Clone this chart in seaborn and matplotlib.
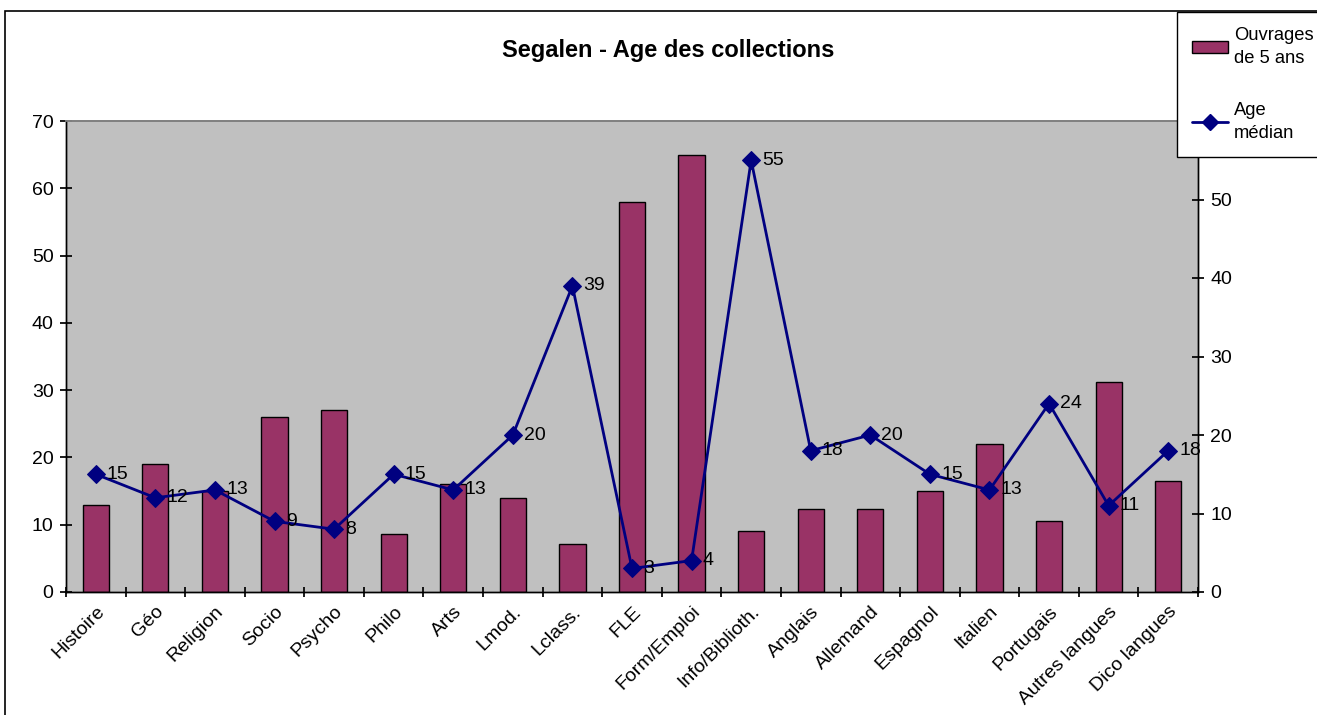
"""Segalen - age des collections : bars + median age line on twin axis."""
import numpy as np
import pandas as pd
import seaborn as sns
import matplotlib.pyplot as plt
from matplotlib.patches import Patch, Rectangle
from matplotlib.lines import Line2D

categories = ["Histoire", "Géo", "Religion", "Socio", "Psycho", "Philo", "Arts",
              "Lmod.", "Lclass.", "FLE", "Form/Emploi", "Info/Biblioth.", "Anglais",
              "Allemand", "Espagnol", "Italien", "Portugais", "Autres langues",
              "Dico langues"]
ouvrages_5ans = [13, 19, 15, 26, 27, 8.6, 16, 14, 7.2, 58, 65, 9, 12.4, 12.4,
                 15, 22, 10.5, 31.2, 16.5]
age_median = [15, 12, 13, 9, 8, 15, 13, 20, 39, 3, 4, 55, 18, 20, 15, 13, 24, 11, 18]
age_ticks = [0, 10, 20, 30, 40, 50, 60]

BAR_COLOR = "#993366"
LINE_COLOR = "#000080"
FS = 14

sns.set_theme(style="ticks")
plt.rcParams["font.family"] = ["Liberation Sans", "DejaVu Sans"]
plt.rcParams["text.color"] = "black"
plt.rcParams["xtick.color"] = "black"
plt.rcParams["ytick.color"] = "black"
plt.rcParams["axes.labelcolor"] = "black"

data = pd.DataFrame({"cat": categories, "ouvrages": ouvrages_5ans, "age": age_median})

fig = plt.figure(figsize=(13.17, 7.15), dpi=100)
ax = fig.add_axes([66 / 1317, 1 - 592 / 715, (1198 - 66) / 1317, (592 - 121) / 715])
ax.set_facecolor("#C0C0C0")

sns.barplot(data=data, x="cat", y="ouvrages", color=BAR_COLOR, width=0.44,
            edgecolor="black", linewidth=1, saturation=1, ax=ax)
ax.set_ylim(0, 70)
ax.set_yticks(range(0, 71, 10))
ax.set_xlim(-0.5, len(categories) - 0.5)
ax.set_xlabel("")
ax.set_ylabel("")

# ticks between categories, labels at centres
ax.set_xticks(np.arange(len(categories) + 1) - 0.5)
ax.set_xticklabels([])
ax.set_xticks(np.arange(len(categories)), minor=True)
ax.set_xticklabels(categories, minor=True, rotation=45, ha="right",
                   rotation_mode="anchor", fontsize=FS)
ax.tick_params(axis="x", which="major", length=7, direction="inout")
ax.tick_params(axis="x", which="minor", length=0, pad=8)
ax.tick_params(axis="y", length=8, direction="inout", labelsize=FS, pad=5)

ax2 = ax.twinx()
sns.lineplot(x=np.arange(len(categories)), y=data["age"], color=LINE_COLOR,
             marker="D", markersize=9, linewidth=2, markeredgecolor=LINE_COLOR,
             ax=ax2, sort=False)
ax2.set_ylim(0, 60)
# top label (60) sits under the legend in the original
ax2.set_yticks(age_ticks, labels=[str(t) for t in age_ticks[:-1]] + [""])
ax2.set_ylabel("")
ax2.tick_params(axis="y", length=8, direction="inout", labelsize=FS, pad=5)
for i, v in enumerate(age_median):
    ax2.annotate(str(v), (i, v), xytext=(8, 0), textcoords="offset points",
                 va="center", ha="left", fontsize=FS)

for a in (ax, ax2):
    for side in ("left", "bottom", "right"):
        a.spines[side].set_color("black")
        a.spines[side].set_linewidth(1)
    a.spines["top"].set_color("#808080")

fig.text(668 / 1317, 1 - 50 / 715, "Segalen - Age des collections",
         ha="center", va="center", fontsize=17, fontweight="bold")

# chart frame (only left and top edges visible in the original)
fig.patches.append(Rectangle((5 / 1317, -0.2), 1.2, 1 - 11 / 715 + 0.2,
                             transform=fig.transFigure, fill=False,
                             edgecolor="black", linewidth=1.2))

handles = [Patch(facecolor=BAR_COLOR, edgecolor="black"),
           Line2D([], [], color=LINE_COLOR, marker="D", markersize=8, linewidth=2)]
leg = fig.legend(handles, ["Ouvrages\nde 5 ans", "Age\nmédian"],
                 loc="upper left", bbox_to_anchor=(1177 / 1317, 1 - 12 / 715),
                 fontsize=13.2, frameon=True, fancybox=False, framealpha=1,
                 edgecolor="black", labelspacing=1.9, handlelength=2.0,
                 handletextpad=0.3, borderpad=0.8, borderaxespad=0)
leg.get_frame().set_linewidth(1)
for t in leg.get_texts():
    t.set_linespacing(1.5)

plt.savefig("out.png", dpi=100)
